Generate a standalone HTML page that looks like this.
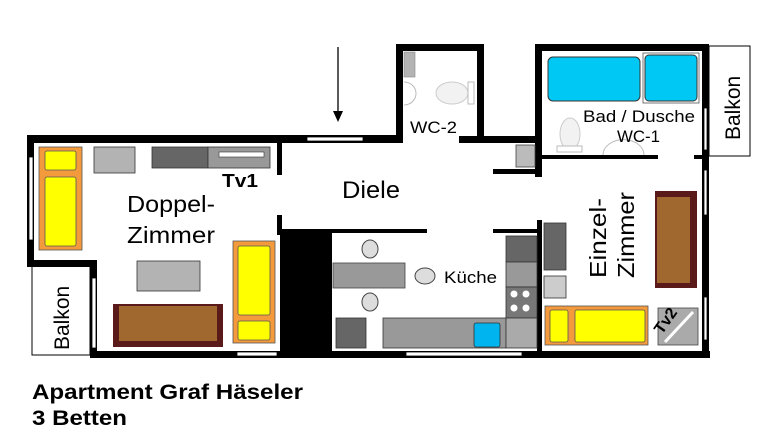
<!DOCTYPE html>
<html><head><meta charset="utf-8"><style>
html,body{margin:0;padding:0;background:#fff;}
svg{display:block;}
text{font-family:"Liberation Sans",Arial,sans-serif;}
</style></head><body>
<svg width="768" height="432" viewBox="0 0 768 432" xmlns="http://www.w3.org/2000/svg">
<rect width="768" height="432" fill="#fff"/>
<!-- balconies -->
<rect x="32" y="266" width="58" height="89" fill="#fff" stroke="#000" stroke-width="1"/>
<rect x="709" y="46" width="41" height="110" fill="#fff" stroke="#000" stroke-width="1"/>
<!-- walls -->
<g fill="#000">
<rect x="27" y="135" width="373" height="8"/>
<rect x="27" y="135" width="7" height="132"/>
<rect x="27" y="260" width="70" height="7"/>
<rect x="90" y="260" width="7" height="98"/>
<rect x="90" y="351" width="620" height="7"/>
<rect x="277" y="135" width="5" height="40"/>
<rect x="277" y="215" width="5" height="20"/>
<rect x="280" y="230" width="52" height="128"/>
<rect x="396" y="44" width="7" height="99"/>
<rect x="396" y="44" width="88" height="7"/>
<rect x="477" y="44" width="7" height="99"/>
<rect x="459" y="136" width="83" height="7"/>
<rect x="535" y="44" width="174" height="7"/>
<rect x="535" y="44" width="7" height="133"/>
<rect x="702" y="44" width="7" height="314"/>
<rect x="542" y="155" width="116" height="4"/>
<rect x="694" y="155" width="10" height="4"/>
<rect x="493" y="169" width="49" height="5"/>
<rect x="280" y="229" width="147" height="4"/>
<rect x="493" y="229" width="48" height="4"/>
<rect x="537" y="220" width="5" height="138"/>
</g>
<!-- windows -->
<g fill="#fff" stroke="#000" stroke-width="0.8">
<rect x="307" y="137" width="56" height="4"/>
<rect x="29" y="157" width="4" height="83"/>
<rect x="92" y="278" width="4" height="70"/>
<rect x="237" y="352" width="40" height="4"/>
<rect x="406" y="352" width="116" height="4"/>
<rect x="704" y="108" width="3" height="42"/>
<rect x="704" y="170" width="3" height="45"/>
<rect x="704" y="297" width="3" height="43"/>
</g>
<!-- arrow -->
<line x1="338" y1="47" x2="338" y2="112" stroke="#000" stroke-width="1.3"/>
<polygon points="333,111 343,111 338,122" fill="#000"/>
<!-- Doppel furniture -->
<rect x="39" y="147" width="43" height="103" fill="#f39a3c" stroke="#555" stroke-width="0.8"/>
<rect x="45" y="151" width="31" height="19" rx="2" fill="#ffff00" stroke="#555" stroke-width="0.8"/>
<rect x="45" y="177" width="31" height="69" rx="2" fill="#ffff00" stroke="#555" stroke-width="0.8"/>
<rect x="94" y="147" width="41" height="26" fill="#b3b3b3" stroke="#333" stroke-width="0.8"/>
<rect x="152" y="147" width="56" height="21" fill="#666" stroke="#333" stroke-width="0.8"/>
<rect x="208" y="147" width="62" height="21" fill="#999" stroke="#333" stroke-width="0.8"/>
<rect x="219" y="152" width="45" height="5" fill="#fff" stroke="#333" stroke-width="0.6"/>
<text x="222" y="187" font-size="18" font-weight="bold" textLength="36" lengthAdjust="spacingAndGlyphs">Tv1</text>
<text x="127" y="212" font-size="23" textLength="88" lengthAdjust="spacingAndGlyphs">Doppel-</text>
<text x="127" y="243" font-size="23" textLength="88" lengthAdjust="spacingAndGlyphs">Zimmer</text>
<rect x="137" y="261" width="63" height="30" fill="#b3b3b3" stroke="#333" stroke-width="0.8"/>
<rect x="113" y="304" width="110" height="43" fill="#5a1a1a"/>
<rect x="119" y="306" width="98" height="35" fill="#a0672f"/>
<rect x="233" y="241" width="42" height="102" fill="#f39a3c" stroke="#555" stroke-width="0.8"/>
<rect x="238" y="246" width="32" height="69" rx="2" fill="#ffff00" stroke="#555" stroke-width="0.8"/>
<rect x="238" y="321" width="32" height="19" rx="2" fill="#ffff00" stroke="#555" stroke-width="0.8"/>
<text transform="translate(69,350) rotate(-90)" font-size="21">Balkon</text>
<!-- WC-2 -->
<rect x="404" y="52" width="11" height="25" fill="#b3b3b3" stroke="#888" stroke-width="0.6"/>
<path d="M404,82 A12,11.5 0 0 1 404,105" fill="#fff" stroke="#bbb" stroke-width="1"/>
<ellipse cx="452" cy="93" rx="16" ry="11" fill="#f2f2f2" stroke="#ccc"/>
<rect x="468" y="82" width="6" height="22" fill="#fff" stroke="#bbb"/>
<text x="410" y="133" font-size="17" textLength="47" lengthAdjust="spacingAndGlyphs">WC-2</text>
<!-- Bad -->
<rect x="548" y="57" width="92" height="44" rx="5" fill="#00c8f5" stroke="#333" stroke-width="1"/>
<rect x="643" y="53" width="56" height="50" fill="#fff" stroke="#555" stroke-width="0.8"/>
<rect x="645" y="55" width="52" height="46" rx="4" fill="#00c8f5" stroke="#333" stroke-width="1"/>
<ellipse cx="570" cy="134" rx="10" ry="16" fill="#f2f2f2" stroke="#ccc"/>
<rect x="557" y="146" width="25" height="6" fill="#fff" stroke="#bbb"/>
<path d="M603,155 A20,15 0 0 1 644,155" fill="#fff" stroke="#bbb"/>
<text x="583" y="122" font-size="17" textLength="112" lengthAdjust="spacingAndGlyphs">Bad / Dusche</text>
<text x="617" y="142" font-size="17" textLength="43" lengthAdjust="spacingAndGlyphs">WC-1</text>
<text transform="translate(740,140) rotate(-90)" font-size="21">Balkon</text>
<rect x="516" y="145" width="19" height="22" fill="#bbb" stroke="#444" stroke-width="0.8"/>
<!-- Diele -->
<text x="342" y="198" font-size="24" textLength="58" lengthAdjust="spacingAndGlyphs">Diele</text>
<!-- Kitchen -->
<ellipse cx="370" cy="249" rx="8" ry="9" fill="#ddd" stroke="#444"/>
<ellipse cx="370" cy="302" rx="8" ry="9" fill="#ddd" stroke="#444"/>
<ellipse cx="425" cy="276" rx="10" ry="8" fill="#ddd" stroke="#444"/>
<rect x="333" y="263" width="72" height="25" fill="#999" stroke="#444" stroke-width="0.8"/>
<text x="444" y="283" font-size="17" textLength="53" lengthAdjust="spacingAndGlyphs">Küche</text>
<rect x="336" y="318" width="30" height="30" fill="#666" stroke="#333" stroke-width="0.8"/>
<rect x="383" y="318" width="123" height="30" fill="#999" stroke="#333" stroke-width="0.8"/>
<rect x="474" y="323" width="26" height="24" rx="2" fill="#00b4ef" stroke="#333" stroke-width="0.8"/>
<rect x="506" y="236" width="31" height="26" fill="#666" stroke="#333" stroke-width="0.8"/>
<rect x="506" y="262" width="31" height="25" fill="#999" stroke="#333" stroke-width="0.8"/>
<rect x="506" y="287" width="31" height="31" fill="#777" stroke="#333" stroke-width="0.8"/>
<g fill="#fff"><circle cx="514" cy="294" r="3.5"/><circle cx="526" cy="294" r="3.5"/><circle cx="514" cy="308" r="3.5"/><circle cx="526" cy="308" r="3.5"/></g>
<rect x="506" y="318" width="31" height="30" fill="#aaa" stroke="#333" stroke-width="0.8"/>
<!-- Einzel -->
<rect x="544" y="223" width="22" height="47" fill="#666" stroke="#333" stroke-width="0.8"/>
<rect x="544" y="276" width="22" height="22" fill="#ccc" stroke="#333" stroke-width="0.8"/>
<rect x="545" y="306" width="103" height="39" fill="#f39a3c" stroke="#555" stroke-width="0.8"/>
<rect x="550" y="310" width="18" height="32" rx="2" fill="#ffff00" stroke="#555" stroke-width="0.8"/>
<rect x="575" y="310" width="70" height="32" rx="2" fill="#ffff00" stroke="#555" stroke-width="0.8"/>
<rect x="658" y="308" width="40" height="37" fill="#aaa" stroke="#444" stroke-width="0.8"/>
<line x1="665" y1="342" x2="693" y2="312" stroke="#fff" stroke-width="3"/>
<text transform="translate(662,335) rotate(-55)" font-size="16" font-weight="bold">Tv2</text>
<rect x="655" y="191" width="42" height="97" fill="#5a1a1a"/>
<rect x="657" y="197" width="33" height="86" fill="#a0672f"/>
<text transform="translate(606,278) rotate(-90)" font-size="23" textLength="80" lengthAdjust="spacingAndGlyphs">Einzel-</text>
<text transform="translate(634,278) rotate(-90)" font-size="23" textLength="86" lengthAdjust="spacingAndGlyphs">Zimmer</text>
<!-- caption -->
<text x="32" y="399" font-size="21" font-weight="bold" textLength="271" lengthAdjust="spacingAndGlyphs">Apartment Graf Häseler</text>
<text x="32" y="425" font-size="21" font-weight="bold" textLength="95" lengthAdjust="spacingAndGlyphs">3 Betten</text>
</svg>
</body></html>
